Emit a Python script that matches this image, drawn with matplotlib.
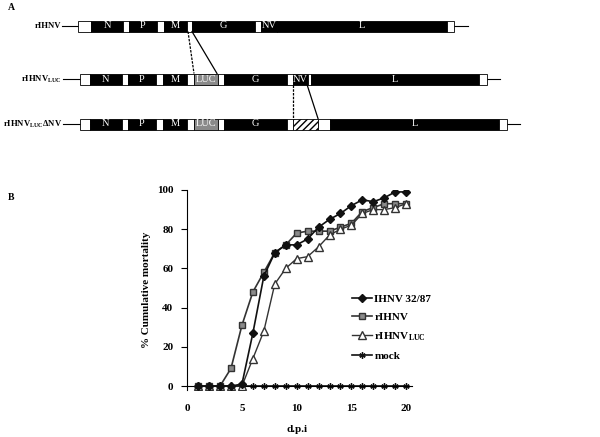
import matplotlib.pyplot as plt
from matplotlib.patches import Rectangle

# survival data (days post infection)
days = list(range(1, 21))
ihnv_3287 = [0, 0, 0, 0, 1, 27, 56, 68, 72, 72, 75, 81, 85, 88, 92, 95, 94, 96, 99, 99]
rihnv = [0, 0, 0, 9, 31, 48, 58, 68, 72, 78, 79, 79, 79, 81, 83, 89, 91, 93, 93, 93]
rihnv_luc = [0, 0, 0, 0, 0, 14, 28, 52, 60, 65, 66, 71, 77, 80, 82, 88, 90, 90, 91, 93]
mock = [0] * 20

series_labels = ["IHNV 32/87", "rIHNV", r"rIHNV$_{\mathregular{LUC}}$", "mock"]
x_ticks = [0, 5, 10, 15, 20]
y_ticks = [0, 20, 40, 60, 80, 100]

# genome maps: (label, left, right, kind)  kind: w=white, b=black, g=gray, h=hatched
construct_names = ["rIHNV", r"rIHNV$_{\mathregular{LUC}}$", r"rIHNV$_{\mathregular{LUC}}$ΔNV"]
construct_rows = [26, 79, 124]
construct_tails = [(62, 468), (63, 500), (63, 520)]
genes_rihnv = [
    ("", 78, 91, "w"), ("N", 91, 123, "b"), ("", 123, 129, "w"), ("P", 129, 157, "b"),
    ("", 157, 164, "w"), ("M", 164, 187, "b"), ("", 187, 192, "w"), ("G", 192, 255, "b"),
    ("", 255, 261, "w"), ("NV", 261, 277, "b"), ("L", 277, 447, "b"), ("", 447, 454, "w"),
]
genes_luc = [
    ("", 80, 90, "w"), ("N", 90, 122, "b"), ("", 122, 128, "w"), ("P", 128, 156, "b"),
    ("", 156, 163, "w"), ("M", 163, 187, "b"), ("", 187, 194, "w"), ("LUC", 194, 218, "g"),
    ("", 218, 224, "w"), ("G", 224, 287, "b"), ("", 287, 293, "w"), ("NV", 293, 308, "b"),
    ("", 308, 311, "w"), ("L", 311, 479, "b"), ("", 479, 487, "w"),
]
genes_dnv = [
    ("", 80, 90, "w"), ("N", 90, 122, "b"), ("", 122, 128, "w"), ("P", 128, 156, "b"),
    ("", 156, 163, "w"), ("M", 163, 187, "b"), ("", 187, 194, "w"), ("LUC", 194, 218, "g"),
    ("", 218, 224, "w"), ("G", 224, 287, "b"), ("", 287, 293, "w"), ("", 293, 318, "h"),
    ("", 318, 330, "w"), ("L", 330, 499, "b"), ("", 499, 507, "w"),
]
construct_genes = [genes_rihnv, genes_luc, genes_dnv]

serif = "Liberation Serif"


def draw_map(ax):
    half = 5.5
    fill = {"w": "white", "b": "black", "g": "#8a8a8a", "h": "white"}
    for name, yc, (t0, t1), genes in zip(construct_names, construct_rows,
                                         construct_tails, construct_genes):
        ax.plot([t0, t1], [yc, yc], color="black", lw=0.8)
        for label, x0, x1, kind in genes:
            ax.add_patch(Rectangle((x0, yc - half), x1 - x0, 2 * half,
                                   facecolor=fill[kind], edgecolor="black", lw=0.6,
                                   hatch="/////" if kind == "h" else None, zorder=2))
            if label:
                ax.text((x0 + x1) / 2, yc, label, color="white", ha="center",
                        va="center", fontsize=7.5, family=serif, zorder=3)
        ax.text(t0 - 1, yc, name, ha="right", va="center", fontsize=6.2,
                family=serif, weight="bold")
    # connectors
    ax.plot([188, 194], [31.5, 73.5], color="black", lw=0.9, ls=(0, (2, 1)))
    ax.plot([192, 217], [31.5, 73.5], color="black", lw=0.9)
    ax.plot([293, 293], [84.5, 118.5], color="black", lw=0.9, ls=(0, (2, 1)))
    ax.plot([307, 318], [84.5, 118.5], color="black", lw=0.9)
    ax.text(8, 8, "A", fontsize=7, family=serif, weight="bold", va="center")
    ax.text(8, 197, "B", fontsize=7, family=serif, weight="bold", va="center")


fig = plt.figure(figsize=(6, 4.37), dpi=100)

ax_map = fig.add_axes([0, 0, 1, 1])
ax_map.set_xlim(0, 600)
ax_map.set_ylim(437, 0)
ax_map.axis("off")
draw_map(ax_map)

ax = fig.add_axes([0.312, 0.1076, 0.374, 0.4577])
ax.plot(days, ihnv_3287, color="#111111", lw=1.2, marker="D", markersize=3.8,
        markerfacecolor="#111111", markeredgecolor="#111111", label=series_labels[0], zorder=4)
ax.plot(days, rihnv, color="#333333", lw=1.2, marker="s", markersize=5,
        markerfacecolor="#8a8a8a", markeredgecolor="#333333", label=series_labels[1], zorder=3)
ax.plot(days, rihnv_luc, color="#333333", lw=1.0, marker="^", markersize=5.5,
        markerfacecolor="white", markeredgecolor="#333333", label=series_labels[2], zorder=3)
ax.plot(days, mock, color="#111111", lw=1.2, marker=(6, 2, 0), markersize=4.5,
        markeredgecolor="#111111", label=series_labels[3], zorder=2)

ax.set_xlim(0, 20.5)
ax.set_ylim(-2, 100)
ax.set_xticks(x_ticks)
ax.set_yticks(y_ticks)
ax.spines["top"].set_visible(False)
ax.spines["right"].set_visible(False)
ax.spines["bottom"].set_position(("data", 0))
ax.tick_params(axis="x", length=0, pad=13)
ax.tick_params(axis="y", length=4, direction="out", pad=6)
for lbl in ax.get_xticklabels() + ax.get_yticklabels():
    lbl.set_family(serif)
    lbl.set_fontsize(8)
    lbl.set_weight("bold")

ax.set_ylabel("% Cumulative mortality", family=serif, fontsize=8, weight="bold", labelpad=4)
ax.text(10, -22, "d.p.i", family=serif, fontsize=8, weight="bold", ha="center", va="center")

leg = ax.legend(loc="upper left", bbox_to_anchor=(0.69, 0.53), frameon=False,
                handlelength=1.8, handletextpad=0.2, labelspacing=0.75,
                prop={"family": serif, "size": 8, "weight": "bold"})

fig.savefig("out.png", dpi=100)
